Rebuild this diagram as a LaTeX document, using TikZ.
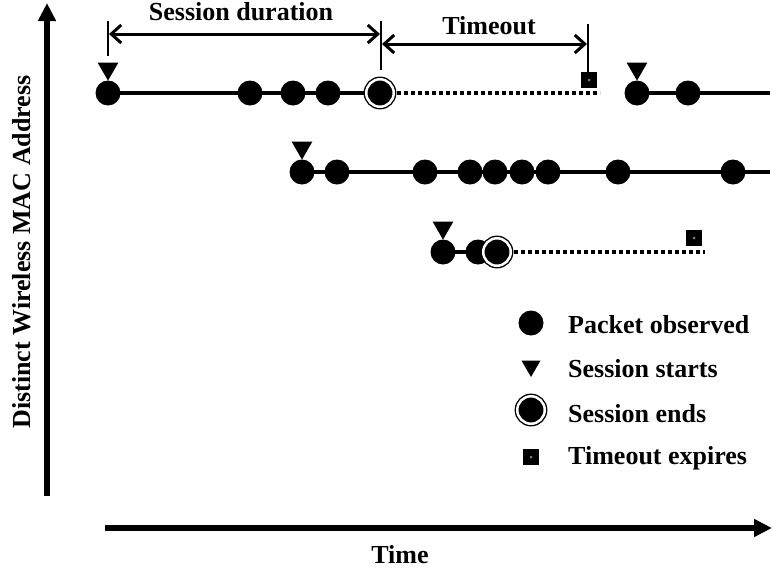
\documentclass[tikz,border=0pt]{standalone}
\usepackage{fontspec}
\setmainfont{Liberation Serif}
\usetikzlibrary{arrows.meta,shapes.geometric}
\tikzset{
  pkt/.style={circle,fill=black,inner sep=0pt,minimum size=25pt},
  endpkt/.style={circle,fill=black,draw=black,double=white,double distance=2.5pt,line width=1.4pt,inner sep=0pt,minimum size=27.5pt},
  startmark/.style={regular polygon,regular polygon sides=3,shape border rotate=180,fill=black,inner sep=0pt,minimum size=24pt},
  expmark/.style={rectangle,fill=black,inner sep=0pt,minimum size=16pt,
     path picture={\fill[gray] (path picture bounding box.center) circle (1.5pt);}},
  rowline/.style={line width=3.6pt},
  waitline/.style={line width=3.6pt,dash pattern=on 4pt off 3pt},
  axis/.style={line width=6pt,-{Triangle[length=18pt,width=17pt]}},
  dimline/.style={line width=3pt,{Straight Barb[length=10pt,width=18pt]}-{Straight Barb[length=10pt,width=18pt]}},
  tick/.style={line width=1.8pt},
  lbl/.style={font=\fontsize{26}{30}\selectfont\bfseries,inner sep=0pt},
}
\begin{document}
\begin{tikzpicture}[x=1pt,y=-1pt]
\useasboundingbox (0,0) rectangle (772,571);
% axes
\coordinate (ybot) at (47,496);
\coordinate (ytop) at (47,3);
\coordinate (xl) at (105,528);
\coordinate (xr) at (772,528);
\draw[axis] (ybot) -- (ytop);
\draw[axis] (xl) -- (xr);
\node[lbl,rotate=90] (ylab) at (22,252) {Distinct Wireless MAC Address};
\node[lbl,anchor=base] (xlab) at (400,563) {Time};

% row 1
\coordinate (r1end) at (770,93);
\draw[rowline] (108,93) -- (380,93);
\draw[waitline] (397,93) -- (600,93);
\draw[rowline] (637,93) -- (r1end);
\node[pkt] (a1) at (108,93) {};
\node[pkt] (a2) at (250,93) {};
\node[pkt] (a3) at (293,93) {};
\node[pkt] (a4) at (328,93) {};
\node[endpkt] (a5) at (380,93) {};
\node[expmark] (ax) at (589,80) {};
\node[startmark,anchor=corner 1] (as) at (108,81) {};
\node[pkt] (b1) at (637,93) {};
\node[pkt] (b2) at (688,93) {};
\node[startmark,anchor=corner 1] (bs) at (637,81) {};

% dimension lines
\coordinate (t1a) at (108,21);
\coordinate (t1b) at (108,56);
\coordinate (t2a) at (381,21);
\coordinate (t2b) at (381,70);
\coordinate (t3a) at (588,24);
\coordinate (t3b) at (588,73);
\draw[tick] (t1a) -- (t1b);
\draw[tick] (t2a) -- (t2b);
\draw[tick] (t3a) -- (t3b);
\coordinate (d1a) at (109,34);
\coordinate (d1b) at (380,34);
\coordinate (d2a) at (382,44);
\coordinate (d2b) at (587,44);
\draw[dimline] (d1a) -- (d1b);
\draw[dimline] (d2a) -- (d2b);
\node[lbl,anchor=base] (sdur) at (241,20) {Session duration};
\node[lbl,anchor=base] (tout) at (489,34) {Timeout};

% row 2
\coordinate (r2end) at (770,172);
\draw[rowline] (302,172) -- (r2end);
\foreach \x [count=\i] in {302,337,425,470,495,522,548,618,733}
  \node[pkt] (c\i) at (\x,172) {};
\node[startmark,anchor=corner 1] (cs) at (302,160) {};

% row 3
\draw[rowline] (443,252) -- (497,252);
\draw[waitline] (514,252) -- (705,252);
\node[pkt] (e1) at (443,252) {};
\node[pkt] (e2) at (478,252) {};
\node[endpkt] (e3) at (497,252) {};
\node[expmark] (ex) at (694,238) {};
\node[startmark,anchor=corner 1] (es) at (443,240) {};

% legend
\node[pkt] (l1) at (531,323) {};
\node[startmark,minimum size=22pt] (l2) at (531,366) {};
\node[endpkt] (l3) at (531,410) {};
\node[expmark] (l4) at (531,457) {};
\node[lbl,anchor=west] (t1) at (568,325) {Packet observed};
\node[lbl,anchor=west] (t2) at (568,369) {Session starts};
\node[lbl,anchor=west] (t3) at (568,414) {Session ends};
\node[lbl,anchor=west] (t4) at (568,458) {Timeout expires};
\end{tikzpicture}
\end{document}
